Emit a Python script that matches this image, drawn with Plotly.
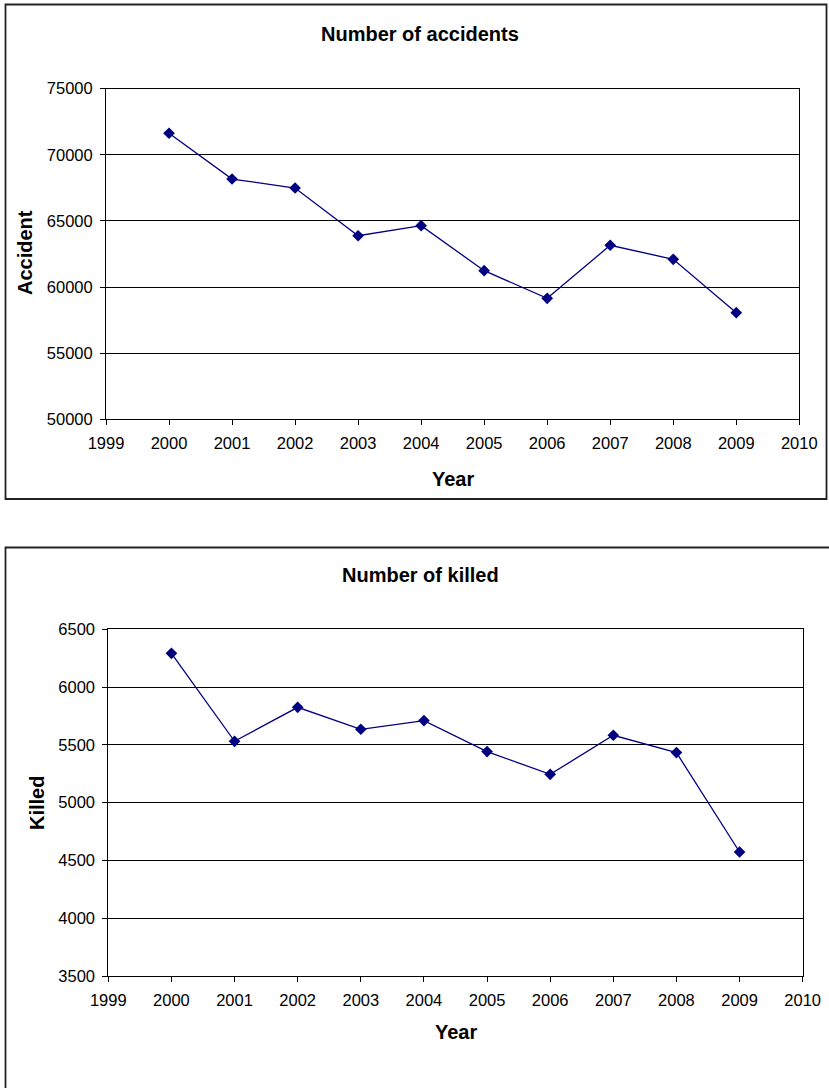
import plotly.graph_objects as go

# Road safety figures, 2000-2009
years = [2000, 2001, 2002, 2003, 2004, 2005, 2006, 2007, 2008, 2009]
accidents = [71630, 68170, 67490, 63880, 64640, 61240, 59150, 63160, 62100, 58060]
killed = [6292, 5531, 5825, 5635, 5710, 5442, 5245, 5583, 5433, 4573]

x_ticks = list(range(1999, 2011))
acc_ticks = [50000, 55000, 60000, 65000, 70000, 75000]
killed_ticks = [3500, 4000, 4500, 5000, 5500, 6000, 6500]

W, H = 829, 1088
NAVY = "#000080"
FONT = "Liberation Sans, Arial, sans-serif"


def px_x(v):
    return v / W


def px_y(v):
    return 1 - v / H


fig = go.Figure()

for xa, ya, vals in (("x", "y", accidents), ("x2", "y2", killed)):
    fig.add_trace(go.Scatter(
        x=years, y=vals, mode="lines+markers", xaxis=xa, yaxis=ya,
        line=dict(color=NAVY, width=1.3),
        marker=dict(symbol="diamond", size=9, color=NAVY),
        showlegend=False,
    ))

axis_common = dict(
    showline=True, linecolor="black", linewidth=1, mirror=True,
    ticks="outside", tickcolor="black", ticklen=5, tickwidth=1,
    tickfont=dict(family=FONT, size=16.5, color="black"),
    zeroline=False, automargin=False, tickformat="d",
    ticklabelstandoff=4,
)

fig.update_layout(
    template="none",
    width=W, height=H,
    margin=dict(l=0, r=0, t=0, b=0),
    paper_bgcolor="white", plot_bgcolor="white",
    xaxis=dict(domain=[px_x(106), px_x(799.3)], anchor="y",
               range=[1999, 2010], tickvals=x_ticks, showgrid=False,
               **axis_common),
    yaxis=dict(domain=[px_y(419.3), px_y(88.7)], anchor="x",
               range=[50000, 75000], tickvals=acc_ticks, showgrid=True,
               gridcolor="black", gridwidth=1, **axis_common),
    xaxis2=dict(domain=[px_x(108.3), px_x(802.7)], anchor="y2",
                range=[1999, 2010], tickvals=x_ticks, showgrid=False,
                **axis_common),
    yaxis2=dict(domain=[px_y(976), px_y(629.3)], anchor="x2",
                range=[3500, 6500], tickvals=killed_ticks, showgrid=True,
                gridcolor="black", gridwidth=1, **axis_common),
)

# Outer chart frames
fig.add_shape(type="rect", xref="paper", yref="paper",
              x0=px_x(5.5), x1=px_x(826.5), y0=px_y(499), y1=px_y(4.5),
              line=dict(color="#222222", width=1.8), fillcolor="rgba(0,0,0,0)")
fig.add_shape(type="rect", xref="paper", yref="paper",
              x0=px_x(5.5), x1=px_x(840), y0=px_y(1100), y1=px_y(547.5),
              line=dict(color="#222222", width=1.8), fillcolor="rgba(0,0,0,0)")

bold = dict(family=FONT, size=20, color="black")


def label(text, x, y, angle=0):
    fig.add_annotation(text=f"<b>{text}</b>", xref="paper", yref="paper",
                       x=px_x(x), y=px_y(y), showarrow=False,
                       xanchor="center", yanchor="middle",
                       textangle=angle, font=bold)


label("Number of accidents", 420, 34)
label("Accident", 25, 253, -90)
label("Year", 453, 479)
label("Number of killed", 420, 575)
label("Killed", 37, 803, -90)
label("Year", 455.5, 1032)

fig.write_html("out.html")
